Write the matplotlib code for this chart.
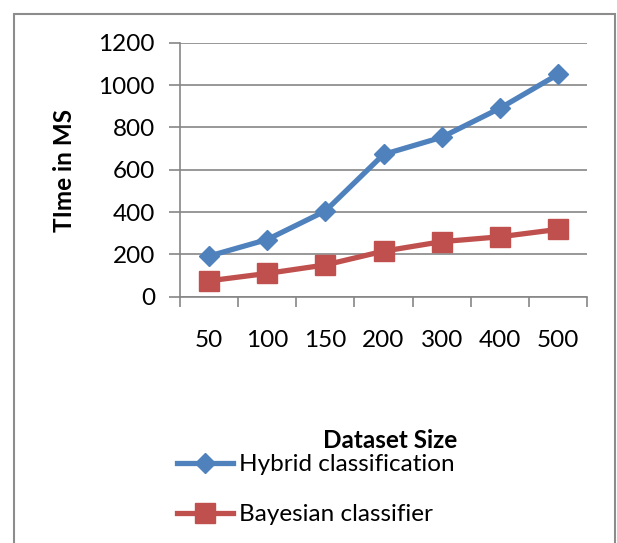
import matplotlib
matplotlib.use("Agg")
import matplotlib.pyplot as plt
from matplotlib.patches import Rectangle

categories = ["50", "100", "150", "200", "300", "400", "500"]
hybrid = [192, 270, 405, 672, 753, 890, 1050]
bayesian = [75, 110, 150, 215, 260, 283, 318]
yticks = [0, 200, 400, 600, 800, 1000, 1200]

plt.rcParams['font.family'] = ['Lato', 'DejaVu Sans']
W, H = 617, 543
FS = 17.5
fig = plt.figure(figsize=(W / 100, H / 100), dpi=100)
ax = fig.add_axes([180 / W, 1 - 296.7 / H, (587 - 180) / W, (296.7 - 42.7) / H])

x = list(range(len(categories)))
blue = "#4F81BD"
red = "#C0504D"
ax.plot(x, hybrid, color=blue, lw=3.8, marker="D", ms=10, label="Hybrid classification", zorder=3)
ax.plot(x, bayesian, color=red, lw=3.8, marker="s", ms=14, label="Bayesian classifier", zorder=3)

ax.set_xlim(-0.5, len(categories) - 0.5)
ax.set_ylim(0, 1200)
ax.set_yticks(yticks)
ax.set_yticklabels([str(v) for v in yticks], fontsize=FS)
ax.set_xticks(x)
ax.set_xticklabels(categories, fontsize=FS)
ax.set_xticks([i - 0.5 for i in range(len(categories) + 1)], minor=True)
ax.tick_params(axis="x", which="major", length=0, pad=24)
ax.tick_params(axis="x", which="minor", length=7, color="#868686", width=1.2, direction="out")
ax.tick_params(axis="y", length=8, color="#868686", width=1.2, pad=10)
ax.grid(axis="y", color="#868686", lw=1.2)
ax.set_axisbelow(True)
for s in ["top", "right"]:
    ax.spines[s].set_visible(False)
for s in ["left", "bottom"]:
    ax.spines[s].set_color("#868686")
    ax.spines[s].set_linewidth(1.2)

fig.text(65 / W, 1 - 170 / H, "TIme in MS", rotation=90, fontsize=FS, fontweight="bold",
         ha="center", va="center")
fig.text(390 / W, 1 - 441 / H, "Dataset Size", fontsize=FS, fontweight="bold",
         ha="center", va="center")

handles, labels = ax.get_legend_handles_labels()
fig.legend(handles, labels, loc="upper left", bbox_to_anchor=(177 / W, 1 - 454 / H),
           frameon=False, fontsize=FS, handlelength=2.3, handletextpad=0.25,
           labelspacing=1.2, borderpad=0, borderaxespad=0)

fig.patches.append(Rectangle((14 / W, -0.05), (615 - 14) / W, 1 - 14 / H + 0.05,
                             transform=fig.transFigure, fill=False, ec="#8c8c8c", lw=1.5))

fig.savefig("out.png", dpi=100)
